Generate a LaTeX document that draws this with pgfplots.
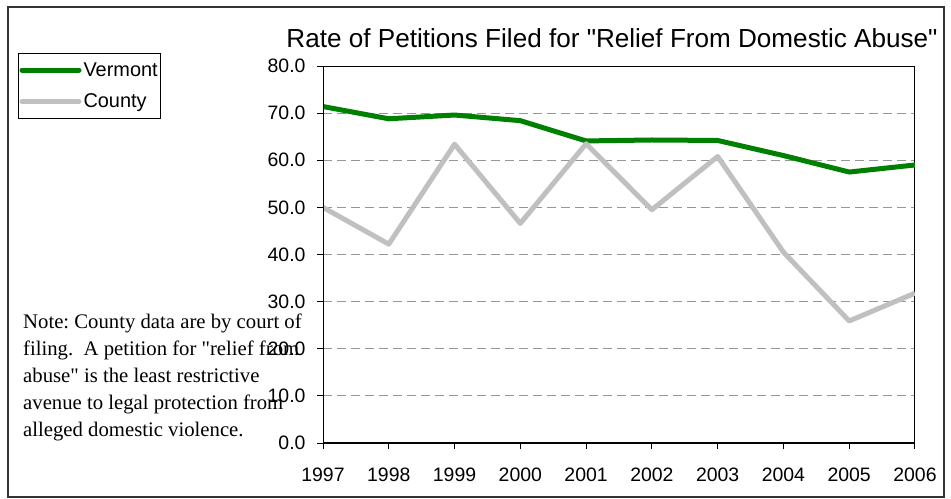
\documentclass[border=0pt]{standalone}
\usepackage{fontspec}
\setmainfont{Liberation Sans}[Ligatures=TeXOff]
\newfontfamily\notefont{Liberation Serif}[Ligatures=TeXOff]
\usepackage{pgfplots}
\pgfplotsset{compat=1.18}

\definecolor{vtgreen}{RGB}{0,128,0}
\definecolor{cosilver}{RGB}{192,192,192}
\definecolor{gridgray}{RGB}{150,150,150}

\begin{document}
\frenchspacing
\begin{tikzpicture}
\useasboundingbox (0,0) rectangle (951bp,-499bp);
\draw[line width=1.5bp, black!80] (8bp,-7bp) rectangle (944bp,-497bp);

\node[anchor=base, inner sep=0pt, font=\fontsize{26.2}{30}\selectfont] at (612bp,-47bp)
  {Rate of Petitions Filed for "Relief From Domestic Abuse"};

\begin{axis}[
    at={(323bp,-443bp)}, anchor=south west,
    scale only axis,
    width=592bp, height=377bp,
    xmin=1997, xmax=2006,
    ymin=0, ymax=80,
    xtick={1997,1998,...,2006},
    ytick={0,10,...,80},
    tick pos=left,
    tick align=outside,
    major tick length=6bp,
    tick style={black, line width=1bp},
    axis line style={black, line width=1bp},
    ymajorgrids,
    grid style={gridgray, line width=1bp, dash pattern=on 9bp off 5bp},
    ticklabel style={font=\fontsize{19.5}{20}\selectfont},
    /pgf/number format/assume math mode=true,
    xticklabel style={yshift=-15bp, /pgf/number format/1000 sep={}},
    yticklabel style={xshift=-8bp, /pgf/number format/.cd, fixed, fixed zerofill, precision=1},
    legend style={
        at={(-0.5152,1.0345)}, anchor=north west,
        draw=black, line width=1bp,
        font=\fontsize{20}{22}\selectfont,
        inner sep=1bp,
        row sep=0pt,
        cells={anchor=west},
        nodes={inner xsep=2bp, inner ysep=8bp},
    },
    legend image code/.code={\draw[#1, line cap=round] (0bp,0bp) -- (57bp,0bp);},
]
\addplot[vtgreen, line width=5bp, line join=round] coordinates {
 (1997,71.4) (1998,68.8) (1999,69.6) (2000,68.4) (2001,64.1)
 (2002,64.3) (2003,64.2) (2004,61.0) (2005,57.5) (2006,59.0) };
\addplot[cosilver, line width=5bp, line join=round] coordinates {
 (1997,50.0) (1998,42.2) (1999,63.4) (2000,46.6) (2001,63.5)
 (2002,49.5) (2003,60.8) (2004,40.5) (2005,25.9) (2006,31.8) };
\legend{Vermont, County}
\draw[black, line width=2bp] (rel axis cs:0,1) -- (rel axis cs:0,0) -- (rel axis cs:1,0);
\end{axis}

\node[anchor=base west, inner sep=0pt, align=left,
      font=\notefont\fontsize{20.8}{27}\selectfont] at (23bp,-436bp)
  {Note: County data are by court of\\
   filing.\ \ A petition for "relief from\\
   abuse" is the least restrictive\\
   avenue to legal protection from\\
   alleged domestic violence.};
\end{tikzpicture}
\end{document}
